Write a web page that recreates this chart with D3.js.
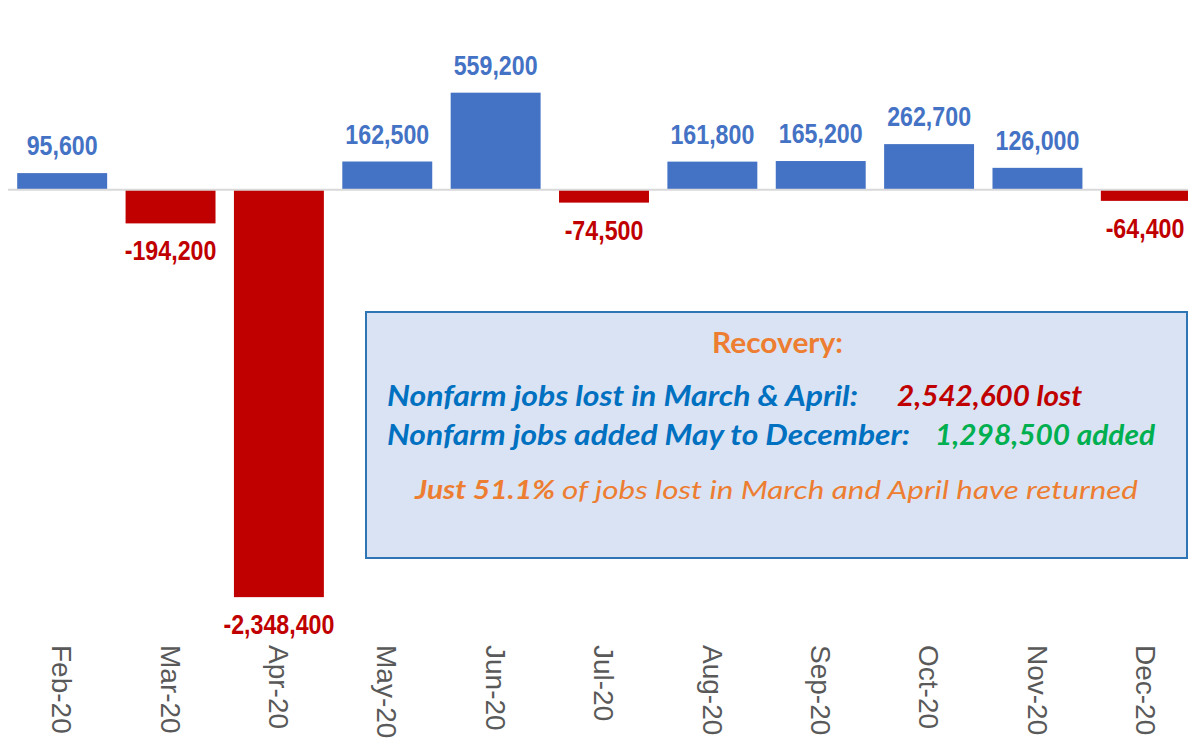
<!DOCTYPE html>
<html><head><meta charset="utf-8">
<script src="https://cdn.jsdelivr.net/npm/d3@7"></script>
<style>html,body{margin:0;padding:0;background:#fff;}svg{display:block;}</style>
</head><body>
<svg id="chart" width="1188" height="742"></svg>
<script>
const months = ["Feb-20","Mar-20","Apr-20","May-20","Jun-20","Jul-20","Aug-20","Sep-20","Oct-20","Nov-20","Dec-20"];
const jobChange = [95600,-194200,-2348400,162500,559200,-74500,161800,165200,262700,126000,-64400];

const boxTitle = "Recovery:";
const boxLine1 = ["Nonfarm jobs lost in March & April:", "2,542,600 lost"];
const boxLine2 = ["Nonfarm jobs added May to December:", "1,298,500 added"];
const boxLine3 = ["Just 51.1%", "of jobs lost in March and April have returned"];

const svg = d3.select("#chart");
const x = d3.scaleBand().domain(months).range([8, 1200]).paddingInner(0.17).paddingOuter(0.085);
const y = d3.scaleLinear().domain([-2600000, 1000000]).range([640.8, 16.2]);
const fmt = v => d3.format(",")(v).replace("\u2212","-");
const BLUE = "#4472C4", RED = "#C00000";

svg.selectAll("rect.bar").data(jobChange).join("rect").attr("class","bar")
  .attr("x",(d,i)=>x(months[i]))
  .attr("width",x.bandwidth())
  .attr("y",d=>d>=0?y(d):y(0))
  .attr("height",d=>Math.abs(y(d)-y(0)))
  .attr("fill",d=>d>=0?BLUE:RED);

// zero axis line
svg.append("line").attr("x1",8).attr("x2",1188).attr("y1",y(0)).attr("y2",y(0))
  .attr("stroke","#D9D9D9").attr("stroke-width",2);

// value labels (condensed by horizontal scaling)
svg.selectAll("text.val").data(jobChange).join("text").attr("class","val")
  .attr("transform",(d,i)=>{
    const cx = Math.min(x(months[i])+x.bandwidth()/2, 1145);
    const ty = d>=0?y(d)-18:y(d)+37;
    return `translate(${cx},${ty}) scale(0.86,1)`;
  })
  .attr("text-anchor","middle")
  .attr("font-family","'Liberation Sans',Arial,sans-serif")
  .attr("font-weight","bold").attr("font-size",27)
  .attr("fill",d=>d>=0?BLUE:RED)
  .text(d=>fmt(d));

// category axis labels (rotated)
const xAxis = d3.axisBottom(x).tickSize(0).tickPadding(0);
const gx = svg.append("g").attr("transform","translate(0,645)").call(xAxis);
gx.select(".domain").remove();
gx.selectAll("text")
  .attr("transform","rotate(90)")
  .attr("x",0).attr("y",0).attr("dy","0.35em")
  .attr("text-anchor","start")
  .attr("font-family","'Liberation Sans',Arial,sans-serif")
  .attr("font-size",28).attr("fill","#595959");

// annotation box
svg.append("rect").attr("x",366).attr("y",312).attr("width",821).attr("height",246)
  .attr("fill","#DAE3F3").attr("stroke","#2E75B6").attr("stroke-width",2);

const FF = "Lato,'Open Sans','Noto Sans',sans-serif";
svg.append("text").attr("x",712).attr("y",353)
  .attr("font-family",FF).attr("font-weight","bold").attr("font-size",29)
  .attr("textLength",131).attr("lengthAdjust","spacingAndGlyphs")
  .attr("fill","#ED7D31").text(boxTitle);

function line(txt, xs, yb, w, color, weight, size){
  svg.append("text").attr("x",xs).attr("y",yb)
    .attr("font-family",FF).attr("font-style","italic").attr("font-weight",weight)
    .attr("font-size",size).attr("fill",color)
    .attr("textLength",w).attr("lengthAdjust","spacingAndGlyphs")
    .text(txt);
}
line(boxLine1[0], 387, 406, 471, "#0070C0", "bold", 28);
line(boxLine1[1], 897, 406, 185, RED, "bold", 28);
line(boxLine2[0], 387, 445, 523, "#0070C0", "bold", 28);
line(boxLine2[1], 935, 445, 220, "#00B050", "bold", 28);
line(boxLine3[0], 415, 499, 140, "#ED7D31", "bold", 26);
line(boxLine3[1], 562, 499, 576, "#ED7D31", "normal", 26);
</script>
</body></html>
